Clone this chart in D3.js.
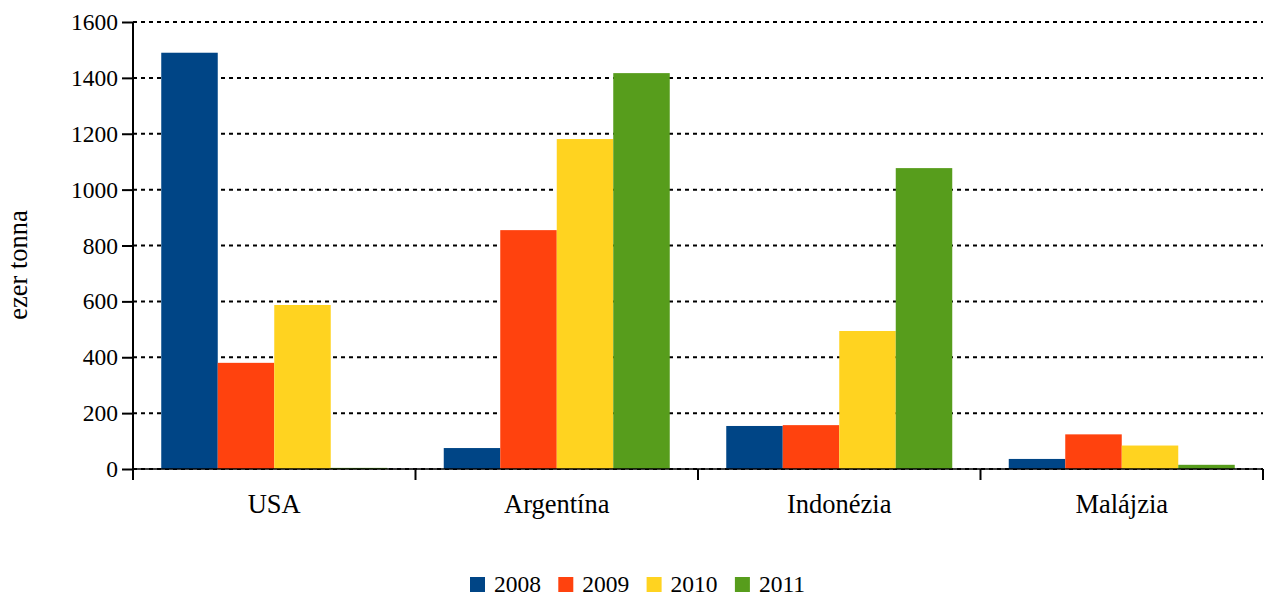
<!DOCTYPE html>
<html>
<head>
  <meta charset="utf-8">
  <title>ezer tonna</title>
  <script src="https://d3js.org/d3.v7.min.js"></script>
  <style>
    body { margin: 0; background: #fff; }
  </style>
</head>
<body>
  <svg id="chart" width="1265" height="597"></svg>
  <script>
    var countries = ["USA", "Argentína", "Indonézia", "Malájzia"]
    var years = ["2008", "2009", "2010", "2011"]
    var v2008 = [1490, 75, 154, 36]
    var v2009 = [380, 855, 157, 124]
    var v2010 = [587, 1181, 494, 84]
    var v2011 = [4, 1417, 1077, 15]
    var yTicks = [0, 200, 400, 600, 800, 1000, 1200, 1400, 1600]
    var colors = ["#004586", "#ff420e", "#ffd320", "#579d1c"]

    var series = [v2008, v2009, v2010, v2011]
    var svg = d3.select("#chart")
    var mLeft = 133, mRight = 1263, mTop = 22, mBottom = 469
    var fsNum = 23.5, fsText = 26.5, ff = "Liberation Serif"

    var x = d3.scaleBand().domain(countries).range([mLeft, mRight]).paddingInner(0).paddingOuter(0)
    var xi = d3.scaleBand().domain(years).range([0, x.bandwidth()]).paddingOuter(0.5).paddingInner(0)
    var y = d3.scaleLinear().domain([0, 1600]).range([mBottom, mTop])

    // grid
    svg.append("g").selectAll("line").data(yTicks).enter().append("line")
      .attr("x1", mLeft).attr("x2", mRight)
      .attr("y1", d => y(d)).attr("y2", d => y(d))
      .attr("stroke", "#000").attr("stroke-width", 2)
      .attr("stroke-dasharray", "4,4")

    // bars
    var groups = svg.append("g").selectAll("g").data(countries).enter().append("g")
      .attr("transform", d => "translate(" + x(d) + ",0)")
    groups.selectAll("rect").data((c, ci) => years.map((yr, si) => ({ yr: yr, v: series[si][ci], si: si })))
      .enter().append("rect")
      .attr("x", d => xi(d.yr))
      .attr("width", xi.bandwidth())
      .attr("y", d => y(d.v))
      .attr("height", d => y(0) - y(d.v))
      .attr("fill", d => colors[d.si])

    // y axis
    var yAxis = d3.axisLeft(y).tickValues(yTicks).tickFormat(d3.format("d")).tickSize(11).tickPadding(4)
    var ya = svg.append("g").attr("transform", "translate(" + mLeft + ",0)").call(yAxis)
      .attr("font-family", ff).attr("font-size", fsNum)
    ya.select(".domain").remove()
    ya.selectAll("line").attr("stroke", "#000").attr("stroke-width", 2)
    ya.selectAll("text").attr("fill", "#000")
    svg.append("line").attr("x1", mLeft).attr("x2", mLeft).attr("y1", mTop).attr("y2", mBottom + 11)
      .attr("stroke", "#000").attr("stroke-width", 2)

    // x axis
    var xTickPos = countries.map(c => x(c)).concat([mRight])
    svg.append("line").attr("x1", mLeft).attr("x2", mRight).attr("y1", mBottom).attr("y2", mBottom)
      .attr("stroke", "#000").attr("stroke-width", 1.5)
    svg.append("g").selectAll("line").data(xTickPos).enter().append("line")
      .attr("x1", d => d).attr("x2", d => d).attr("y1", mBottom).attr("y2", mBottom + 11)
      .attr("stroke", "#000").attr("stroke-width", 2)
    svg.append("g").selectAll("text").data(countries).enter().append("text")
      .attr("x", d => x(d) + x.bandwidth() / 2).attr("y", 513)
      .attr("text-anchor", "middle").attr("font-family", ff).attr("font-size", fsText)
      .text(d => d)

    // y label
    svg.append("text").attr("transform", "translate(27,265) rotate(-90)")
      .attr("text-anchor", "middle").attr("font-family", ff).attr("font-size", fsText).text("ezer tonna")

    // legend
    var lg = svg.append("g").selectAll("g").data(years).enter().append("g")
      .attr("transform", (d, i) => "translate(" + (470 + i * 88.3) + ",577)")
    lg.append("rect").attr("width", 15).attr("height", 15).attr("fill", (d, i) => colors[i])
    lg.append("text").attr("x", 24).attr("y", 15).attr("font-family", ff).attr("font-size", fsNum).text(d => d)
  </script>
</body>
</html>
